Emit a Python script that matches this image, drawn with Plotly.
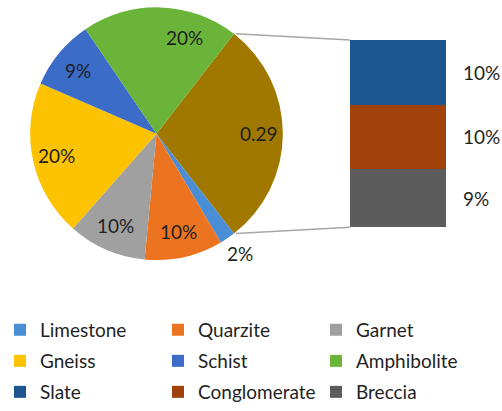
import math
import plotly.graph_objects as go

# Main pie categories and their shares (percent)
pie_labels = ["Limestone", "Quarzite", "Garnet", "Gneiss", "Schist", "Amphibolite"]
pie_values = [2, 10, 10, 20, 9, 20]

# Categories grouped into the "Other" slice, expanded in the stacked bar
bar_labels = ["Slate", "Conglomerate", "Breccia"]
bar_values = [10, 10, 9]

legend_rows = [
    ["Limestone", "Quarzite", "Garnet"],
    ["Gneiss", "Schist", "Amphibolite"],
    ["Slate", "Conglomerate", "Breccia"],
]

colors = {
    "Limestone": "#4A8FD6",
    "Quarzite": "#EC7420",
    "Garnet": "#A0A0A0",
    "Gneiss": "#FDC300",
    "Schist": "#3A6CC8",
    "Amphibolite": "#6AB43A",
    "Slate": "#1C5590",
    "Conglomerate": "#A0420A",
    "Breccia": "#5C5C5C",
    "Other": "#A07800",
}

W, H = 502, 411
FONT = "Lato"
TEXT = "#1f1f24"

# pie geometry in pixels
cx, cy, R = 156.5, 137.0, 129.5
# stacked bar box in pixels
bx0, bx1, by0, by1 = 350, 446, 41, 233

other_value = sum(bar_values)
slice_labels = ["Other"] + pie_labels
slice_values = [other_value] + pie_values
total = sum(slice_values)

# the "Other" slice is centred on 3 o'clock
start_angle = 90 - other_value / total * 360 / 2

fig = go.Figure()

fig.add_trace(go.Pie(
    labels=slice_labels,
    values=slice_values,
    sort=False,
    direction="clockwise",
    rotation=start_angle,
    marker=dict(colors=[colors[l] for l in slice_labels],
                line=dict(color="white", width=0)),
    textinfo="none",
    hoverinfo="label+value",
    showlegend=False,
    automargin=False,
    domain=dict(x=[(cx - R) / W, (cx + R) / W],
                y=[1 - (cy + R) / H, 1 - (cy - R) / H]),
))

def px_to_paper(x, y):
    return x / W, 1 - y / H

# pie value labels placed along each slice's mid-angle
label_radius = {"Limestone": 1.15}
label_shift = {"Amphibolite": 14}
acc = 0.0
for lab, val in zip(slice_labels, slice_values):
    mid = start_angle + (acc + val / 2) / total * 360
    acc += val
    mid += label_shift.get(lab, 0)
    f = label_radius.get(lab, 0.79)
    a = math.radians(mid)
    x = cx + R * f * math.sin(a)
    y = cy - R * f * math.cos(a)
    txt = f"{val / 100:.2f}" if lab == "Other" else f"{val}%"
    px, py = px_to_paper(x, y)
    fig.add_annotation(x=px, y=py, xref="paper", yref="paper", text=txt,
                       showarrow=False, xanchor="center", yanchor="middle",
                       font=dict(family=FONT, size=19, color=TEXT))

# stacked bar for the breakdown of "Other" (bottom to top)
for lab, val in reversed(list(zip(bar_labels, bar_values))):
    fig.add_trace(go.Bar(
        x=[0], y=[val], width=1, name=lab,
        marker=dict(color=colors[lab], line=dict(width=0)),
        showlegend=False, hoverinfo="name+y",
    ))

base = 0
for lab, val in reversed(list(zip(bar_labels, bar_values))):
    fig.add_annotation(x=0.5, y=base + val / 2, xref="x", yref="y",
                       text=f"{val}%", showarrow=False, xanchor="left", yanchor="middle",
                       xshift=15, font=dict(family=FONT, size=19, color=TEXT))
    base += val

# connector lines from the "Other" slice edges to the bar
end_angle = start_angle + other_value / total * 360
for ang, by in [(start_angle, by0), (end_angle, by1)]:
    a = math.radians(ang)
    x0 = cx + R * math.sin(a)
    y0 = cy - R * math.cos(a)
    p0 = px_to_paper(x0, y0)
    p1 = px_to_paper(bx0, by)
    fig.add_shape(type="line", xref="paper", yref="paper",
                  x0=p0[0], y0=p0[1], x1=p1[0], y1=p1[1],
                  line=dict(color="#A6A6A6", width=1.5))

# legend entries, one legend per row
row_y = [338, 370, 402]
legend_layouts = {}
for i, (row, ry) in enumerate(zip(legend_rows, row_y)):
    lname = "legend" if i == 0 else f"legend{i + 1}"
    for lab in row:
        fig.add_trace(go.Scatter(
            x=[None], y=[None], mode="markers", name=lab,
            marker=dict(symbol="square", size=12, color=colors[lab]),
            legend=lname, showlegend=True, hoverinfo="skip",
        ))
    legend_layouts[lname] = dict(
        orientation="h", x=0, xanchor="left", y=1 - ry / H, yanchor="middle",
        entrywidth=113, entrywidthmode="pixels", itemwidth=30,
        bgcolor="rgba(0,0,0,0)", borderwidth=0,
        font=dict(family=FONT, size=19, color=TEXT),
        traceorder="normal",
    )

fig.update_layout(
    width=W, height=H,
    margin=dict(l=0, r=0, t=0, b=0),
    paper_bgcolor="white", plot_bgcolor="white",
    barmode="stack",
    xaxis=dict(domain=[bx0 / W, bx1 / W], range=[-0.5, 0.5], visible=False, fixedrange=True),
    yaxis=dict(domain=[1 - by1 / H, 1 - by0 / H], range=[0, other_value], visible=False, fixedrange=True),
    **legend_layouts,
)

fig.write_html("out.html")
